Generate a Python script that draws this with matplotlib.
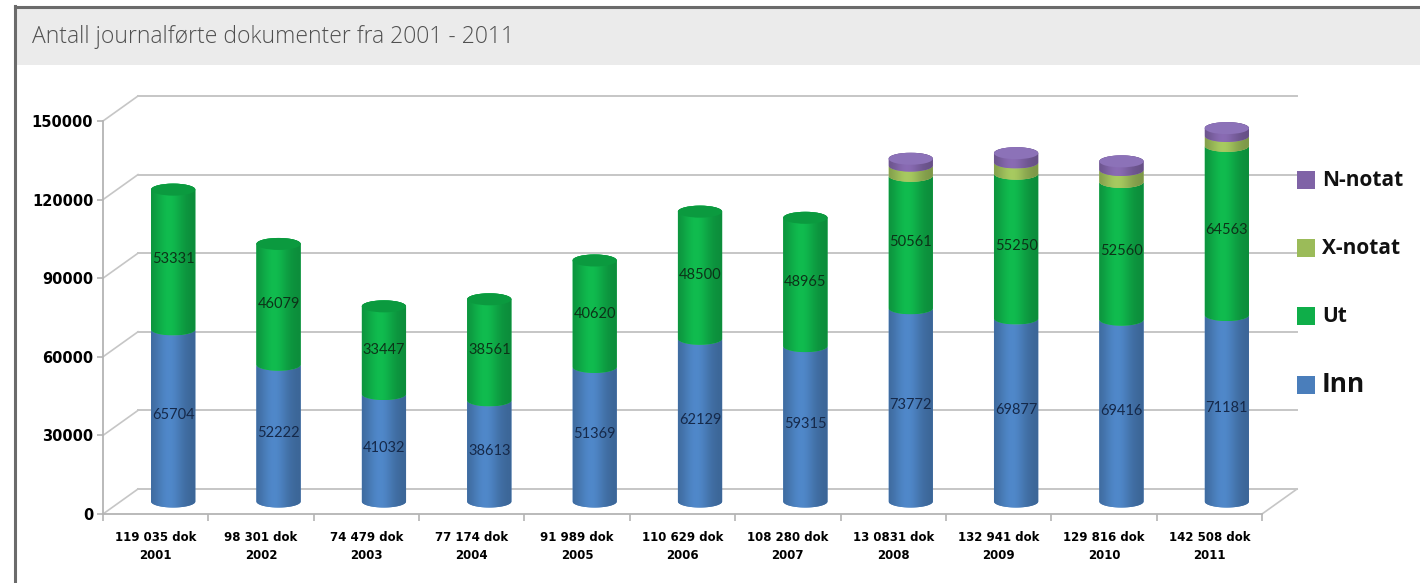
import numpy as np
import matplotlib.pyplot as plt
from matplotlib.patches import Polygon, Ellipse, Rectangle
from matplotlib.lines import Line2D
from matplotlib.colors import to_rgb

# documents registered per year, split by document type
years = ["2001", "2002", "2003", "2004", "2005", "2006",
         "2007", "2008", "2009", "2010", "2011"]
total_labels = ["119 035 dok", "98 301 dok", "74 479 dok", "77 174 dok",
                "91 989 dok", "110 629 dok", "108 280 dok", "13 0831 dok",
                "132 941 dok", "129 816 dok", "142 508 dok"]
inn = [65704, 52222, 41032, 38613, 51369, 62129, 59315, 73772, 69877, 69416, 71181]
ut = [53331, 46079, 33447, 38561, 40620, 48500, 48965, 50561, 55250, 52560, 64563]
x_notat = [0, 0, 0, 0, 0, 0, 0, 3900, 4300, 4600, 3800]
n_notat = [0, 0, 0, 0, 0, 0, 0, 2598, 3514, 3240, 2964]

series_names = ["Inn", "Ut", "X-notat", "N-notat"]
series_colors = ["#4a7ebb", "#0fae49", "#9bbb59", "#7f63a6"]
top_colors = ["#5a8bc6", "#0b9a3f", "#a8c666", "#8c72b8"]
label_colors = ["#15294a", "#0c3318"]
y_ticks = [0, 30000, 60000, 90000, 120000, 150000]

W, H = 1420, 583
fig = plt.figure(figsize=(W / 100, H / 100), dpi=100)
fig.patch.set_facecolor("white")


def fx(px):
    return px / W


def fy(py):
    return 1 - py / H


# panel frame and title band
fig.add_artist(Rectangle((fx(15), fy(65)), fx(W - 15), fy(8) - fy(65),
                         transform=fig.transFigure, facecolor="#ebebeb",
                         edgecolor="none", zorder=0))
fig.add_artist(Line2D([fx(15), fx(W)], [fy(7), fy(7)], transform=fig.transFigure,
                      color="#6b6b6b", lw=2.2))
fig.add_artist(Line2D([fx(15), fx(15)], [fy(6), fy(H)], transform=fig.transFigure,
                      color="#6b6b6b", lw=2.2))
fig.text(fx(32), fy(37), "Antall journalførte dokumenter fra 2001 - 2011",
         fontsize=16.5, fontweight="light", color="#505050", family="Open Sans",
         va="center", ha="left")

# front plane of the 3d box: x from -0.5 to 10.5, y from 0 to 150000
left, right, bottom, top = 103, 1262, 514, 121
ax = fig.add_axes([fx(left), fy(bottom), fx(right - left), fy(top) - fy(bottom)])
ax.set_facecolor("none")

n = len(years)
px_per_val = (bottom - top) / 150000
DX = 35 / ((right - left) / n)
DY = 25 / px_per_val
bar_w = 0.42
ell_h = 12 / px_per_val
grid_c = "#c6c6c6"

# back wall grid, side wall diagonals and floor edge
for v in y_ticks:
    ax.plot([-0.5 + DX, n - 0.5 + DX], [v + DY, v + DY], color=grid_c, lw=1.4,
            clip_on=False, zorder=1)
    ax.plot([-0.5, -0.5 + DX], [v, v + DY], color=grid_c, lw=1.2, clip_on=False, zorder=1)
ax.plot([n - 0.5, n - 0.5 + DX], [0, DY], color=grid_c, lw=1.2, clip_on=False, zorder=1)


def shade(color, npts=60):
    t = np.linspace(0, 1, npts)
    f = 0.8 + 0.28 * np.exp(-((t - 0.4) / 0.32) ** 2)
    rgb = np.clip(np.outer(f, to_rgb(color)), 0, 1)
    return rgb[np.newaxis, :, :]


theta = np.linspace(np.pi, 2 * np.pi, 40)
stack = np.array([inn, ut, x_notat, n_notat], dtype=float)
base_y = DY / 2

for i in range(n):
    xc = i + DX / 2
    hw = bar_w / 2
    segs = [(k, stack[k, i]) for k in range(4) if stack[k, i] > 0]
    cum = base_y
    for j, (k, val) in enumerate(segs):
        y0, y1 = cum, cum + val
        is_top = j == len(segs) - 1
        lower = np.column_stack([xc + hw * np.cos(theta), y0 + ell_h / 2 * np.sin(theta)])
        if is_top:
            th = np.linspace(0, np.pi, 40)
        else:
            th = theta[::-1]
        upper = np.column_stack([xc + hw * np.cos(th), y1 + ell_h / 2 * np.sin(th)])
        poly = Polygon(np.vstack([lower, upper]), closed=True, facecolor=series_colors[k],
                       edgecolor="none", zorder=3 + j)
        ax.add_patch(poly)
        im = ax.imshow(shade(series_colors[k]),
                       extent=(xc - hw, xc + hw, y0 - ell_h / 2, y1 + ell_h / 2),
                       aspect="auto", interpolation="bilinear", zorder=3 + j)
        im.set_clip_path(poly)
        if is_top:
            ax.add_patch(Ellipse((xc, y1), 2 * hw, ell_h, facecolor=top_colors[k],
                                 edgecolor="none", zorder=8))
        if k < 2:
            ax.text(xc, (y0 + y1) / 2, f"{int(val)}", ha="center", va="center",
                    fontsize=10.5, family="Lato", color=label_colors[k], zorder=10)
        cum = y1

ax.set_xlim(-0.5, n - 0.5)
ax.set_ylim(0, 150000)

for s in ["top", "right"]:
    ax.spines[s].set_visible(False)
for s in ["left", "bottom"]:
    ax.spines[s].set_color("#b4b4b4")
    ax.spines[s].set_linewidth(1.3)

ax.set_yticks(y_ticks)
ax.set_yticklabels([str(v) for v in y_ticks], fontsize=10.5, fontweight="bold")
ax.tick_params(axis="y", length=4, width=1.2, color="#b4b4b4", pad=3)

ax.set_xticks(range(n))
ax.set_xticklabels([f"{t}\n{y}" for t, y in zip(total_labels, years)],
                   fontsize=8.5, fontweight="bold", linespacing=1.5)
ax.set_xticks(np.arange(-0.5, n), minor=True)
ax.tick_params(axis="x", which="major", length=0, pad=12)
ax.tick_params(axis="x", which="minor", length=5, width=1.2, color="#b4b4b4")

# legend, top entry first
legend_y = [180, 248, 316, 385]
legend_size = [15, 15, 15, 19]
for k, name in enumerate(series_names[::-1]):
    idx = 3 - k
    yy = legend_y[k]
    fig.add_artist(Rectangle((fx(1297), fy(yy + 9)), fx(18), fy(yy - 9) - fy(yy + 9),
                             transform=fig.transFigure, facecolor=series_colors[idx],
                             edgecolor="none"))
    fig.text(fx(1322), fy(yy), name, fontsize=legend_size[k], fontweight="bold",
             family="Open Sans", va="center", ha="left", color="#111111")

fig.savefig("out.png", dpi=100)
